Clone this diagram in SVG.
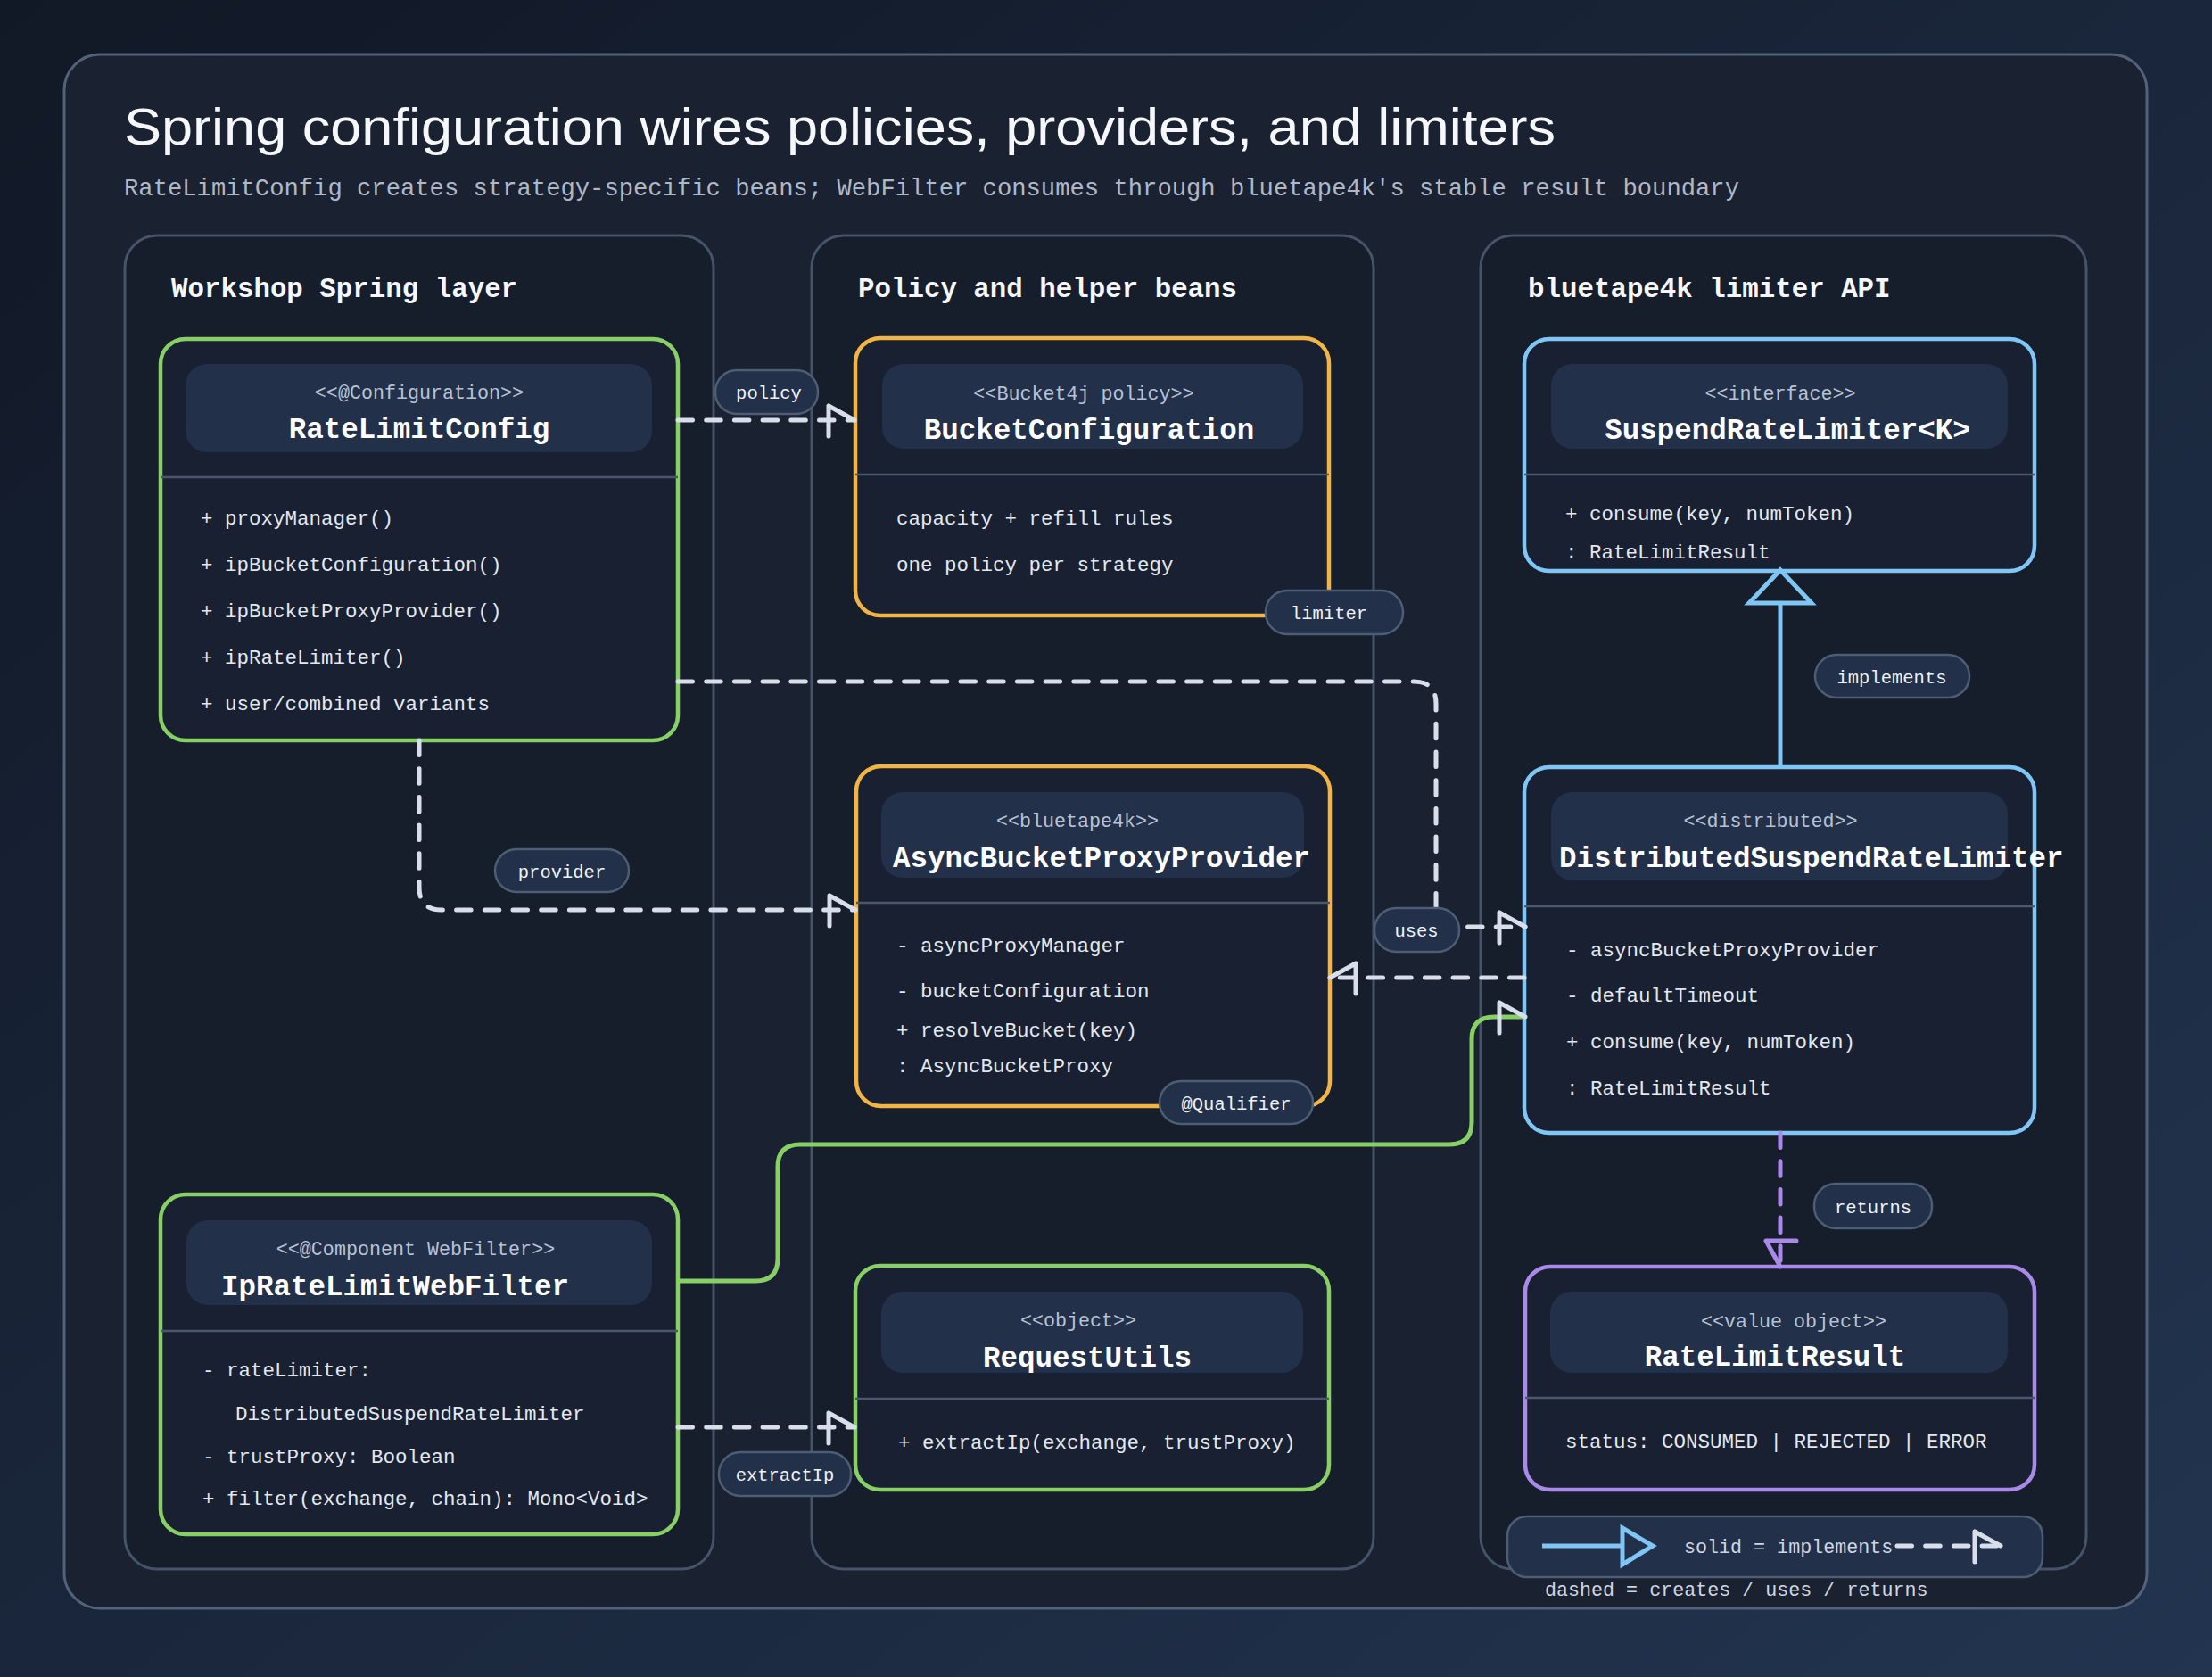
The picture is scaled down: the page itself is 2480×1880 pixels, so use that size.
<svg xmlns="http://www.w3.org/2000/svg" width="2480" height="1880" viewBox="0 0 2480 1880">
<defs>
<linearGradient id="bg" x1="0" y1="0" x2="1" y2="1">
<stop offset="0" stop-color="#111826"/>
<stop offset="1" stop-color="#22344f"/>
</linearGradient>
<marker id="arrA" markerUnits="userSpaceOnUse" overflow="visible" orient="auto" refX="0" refY="0" markerWidth="60" markerHeight="60">
<path d="M-29,-16 L0,0 M-29,-16 L-29,18" fill="none" stroke="#d8dfeb" stroke-width="5" stroke-linecap="round" stroke-linejoin="round"/>
</marker>
<marker id="arrB" markerUnits="userSpaceOnUse" overflow="visible" orient="auto" refX="0" refY="0" markerWidth="60" markerHeight="60">
<path d="M-29,16 L0,0 M-29,16 L-29,-18" fill="none" stroke="#d8dfeb" stroke-width="5" stroke-linecap="round" stroke-linejoin="round"/>
</marker>
<marker id="arrBp" markerUnits="userSpaceOnUse" overflow="visible" orient="auto" refX="0" refY="0" markerWidth="60" markerHeight="60">
<path d="M-29,16 L0,0 M-29,16 L-29,-18" fill="none" stroke="#a98ae8" stroke-width="5" stroke-linecap="round" stroke-linejoin="round"/>
</marker>
<style>
.frame{fill:#1a2130;stroke:#52627a;stroke-width:3}
.lane{fill:#161d2b;stroke:#46546a;stroke-width:3}
.lt{font-family:"Liberation Mono","DejaVu Sans Mono",monospace;font-size:30.8px;font-weight:bold;fill:#f5f7fb}
.node{fill:#182031;stroke-width:4.5}
.g{stroke:#88d066}.o{stroke:#f2b544}.b{stroke:#7fc6f5}.p{stroke:#a98ae8}
.hdr{fill:#22304a}
.div{stroke:#4b576b;stroke-width:2.5}
.st{font-family:"Liberation Mono","DejaVu Sans Mono",monospace;font-size:21.7px;fill:#b7c2d4;text-anchor:middle}
.nm{font-family:"Liberation Mono","DejaVu Sans Mono",monospace;font-size:32.5px;font-weight:bold;fill:#ffffff;text-anchor:middle}
.mb{font-family:"Liberation Mono","DejaVu Sans Mono",monospace;font-size:22.5px;fill:#e3e8f0}
.dash{fill:none;stroke:#d8dfeb;stroke-width:5;stroke-dasharray:16.5 15.2;stroke-linecap:round;stroke-linejoin:round}
.dashp{fill:none;stroke:#a98ae8;stroke-width:5;stroke-dasharray:16.5 15.2;stroke-linecap:round}
.solidg{fill:none;stroke:#88d066;stroke-width:5;stroke-linejoin:round}
.solidb{fill:none;stroke:#7fc6f5;stroke-width:5}
.pill{fill:#22304a;stroke:#4d5d74;stroke-width:2.5}
.pt{font-family:"Liberation Mono","DejaVu Sans Mono",monospace;font-size:20.5px;fill:#eef2f7;text-anchor:middle}
.lg{font-family:"Liberation Mono","DejaVu Sans Mono",monospace;font-size:21.7px;fill:#cfd6e2}
</style>
</defs>

<rect x="0" y="0" width="2480" height="1880" fill="url(#bg)"/>
<rect class="frame" x="72" y="61" width="2335" height="1742" rx="40"/>

<text x="139" y="162" font-family="'Liberation Sans','Noto Sans',sans-serif" font-size="58" fill="#f5f7fb" textLength="1605" lengthAdjust="spacingAndGlyphs">Spring configuration wires policies, providers, and limiters</text>
<text x="139" y="219" font-family="'Liberation Mono','DejaVu Sans Mono',monospace" font-size="27.2" fill="#aeb8c9">RateLimitConfig creates strategy-specific beans; WebFilter consumes through bluetape4k's stable result boundary</text>

<g id="lane-spring">
<rect class="lane" x="140" y="264" width="660" height="1495" rx="36"/>
<text class="lt" x="192" y="333">Workshop Spring layer</text>
</g>
<g id="lane-policy">
<rect class="lane" x="910" y="264" width="630" height="1495" rx="36"/>
<text class="lt" x="962" y="333">Policy and helper beans</text>
</g>
<g id="lane-api">
<rect class="lane" x="1660" y="264" width="679" height="1495" rx="36"/>
<text class="lt" x="1713" y="333">bluetape4k limiter API</text>
</g>

<g id="RateLimitConfig">
<rect class="node g" x="180" y="380" width="580" height="450" rx="28"/>
<rect class="hdr" x="208" y="408" width="523" height="99" rx="24"/>
<text class="st" x="470" y="447">&lt;&lt;@Configuration&gt;&gt;</text>
<text class="nm" x="470" y="491">RateLimitConfig</text>
<line class="div" x1="180" y1="535" x2="760" y2="535"/>
<text class="mb" x="225" y="588">+ proxyManager()</text>
<text class="mb" x="225" y="640">+ ipBucketConfiguration()</text>
<text class="mb" x="225" y="692">+ ipBucketProxyProvider()</text>
<text class="mb" x="225" y="744">+ ipRateLimiter()</text>
<text class="mb" x="225" y="796">+ user/combined variants</text>
</g>

<g id="IpRateLimitWebFilter">
<rect class="node g" x="180" y="1339" width="580" height="381" rx="28"/>
<rect class="hdr" x="209" y="1368" width="522" height="95" rx="24"/>
<text class="st" x="466" y="1407">&lt;&lt;@Component WebFilter&gt;&gt;</text>
<text class="nm" x="443" y="1452">IpRateLimitWebFilter</text>
<line class="div" x1="180" y1="1492" x2="760" y2="1492"/>
<text class="mb" x="227" y="1543">- rateLimiter:</text>
<text class="mb" x="264" y="1592">DistributedSuspendRateLimiter</text>
<text class="mb" x="227" y="1640">- trustProxy: Boolean</text>
<text class="mb" x="227" y="1687">+ filter(exchange, chain): Mono&lt;Void&gt;</text>
</g>

<g id="BucketConfiguration">
<rect class="node o" x="959" y="379" width="531" height="311" rx="28"/>
<rect class="hdr" x="989" y="408" width="472" height="95" rx="24"/>
<text class="st" x="1215" y="448">&lt;&lt;Bucket4j policy&gt;&gt;</text>
<text class="nm" x="1221" y="492">BucketConfiguration</text>
<line class="div" x1="959" y1="532" x2="1490" y2="532"/>
<text class="mb" x="1005" y="588">capacity + refill rules</text>
<text class="mb" x="1005" y="640">one policy per strategy</text>
</g>

<g id="AsyncBucketProxyProvider">
<rect class="node o" x="960" y="859" width="531" height="381" rx="28"/>
<rect class="hdr" x="988" y="888" width="474" height="96" rx="24"/>
<text class="st" x="1208" y="927">&lt;&lt;bluetape4k&gt;&gt;</text>
<text class="nm" x="1235" y="972">AsyncBucketProxyProvider</text>
<line class="div" x1="960" y1="1012" x2="1491" y2="1012"/>
<text class="mb" x="1005" y="1067">- asyncProxyManager</text>
<text class="mb" x="1005" y="1118">- bucketConfiguration</text>
<text class="mb" x="1005" y="1162">+ resolveBucket(key)</text>
<text class="mb" x="1005" y="1202">: AsyncBucketProxy</text>
</g>

<g id="RequestUtils">
<rect class="node g" x="959" y="1419" width="531" height="251" rx="28"/>
<rect class="hdr" x="988" y="1448" width="473" height="91" rx="24"/>
<text class="st" x="1209" y="1487">&lt;&lt;object&gt;&gt;</text>
<text class="nm" x="1219" y="1532">RequestUtils</text>
<line class="div" x1="959" y1="1568" x2="1490" y2="1568"/>
<text class="mb" x="1007" y="1624">+ extractIp(exchange, trustProxy)</text>
</g>

<g id="SuspendRateLimiter">
<rect class="node b" x="1709" y="380" width="572" height="260" rx="28"/>
<rect class="hdr" x="1739" y="408" width="512" height="95" rx="24"/>
<text class="st" x="1996" y="448">&lt;&lt;interface&gt;&gt;</text>
<text class="nm" x="2004" y="492">SuspendRateLimiter&lt;K&gt;</text>
<line class="div" x1="1709" y1="532" x2="2281" y2="532"/>
<text class="mb" x="1755" y="583">+ consume(key, numToken)</text>
<text class="mb" x="1755" y="626">: RateLimitResult</text>
</g>

<g id="DistributedSuspendRateLimiter">
<rect class="node b" x="1709" y="860" width="572" height="410" rx="28"/>
<rect class="hdr" x="1739" y="888" width="512" height="99" rx="24"/>
<text class="st" x="1985" y="927">&lt;&lt;distributed&gt;&gt;</text>
<text class="nm" x="1748" y="972" style="text-anchor:start">DistributedSuspendRateLimiter</text>
<line class="div" x1="1709" y1="1016" x2="2281" y2="1016"/>
<text class="mb" x="1756" y="1072">- asyncBucketProxyProvider</text>
<text class="mb" x="1756" y="1123">- defaultTimeout</text>
<text class="mb" x="1756" y="1175">+ consume(key, numToken)</text>
<text class="mb" x="1756" y="1227">: RateLimitResult</text>
</g>

<g id="RateLimitResult">
<rect class="node p" x="1710" y="1420" width="571" height="250" rx="28"/>
<rect class="hdr" x="1738" y="1448" width="513" height="91" rx="24"/>
<text class="st" x="2011" y="1488">&lt;&lt;value object&gt;&gt;</text>
<text class="nm" x="1990" y="1531">RateLimitResult</text>
<line class="div" x1="1710" y1="1567" x2="2281" y2="1567"/>
<text class="mb" x="1755" y="1623">status: CONSUMED | REJECTED | ERROR</text>
</g>

<g id="connectors">
<path class="dash" d="M760,471 H958" marker-end="url(#arrA)"/>
<path class="dash" d="M470,830 V995 Q470,1020 495,1020 H959" marker-end="url(#arrA)"/>
<path class="dash" d="M760,764 H1585 Q1610,764 1610,789 V1014 Q1610,1039 1635,1039 H1710" marker-end="url(#arrA)"/>
<path class="dash" d="M1709,1096 H1491" marker-end="url(#arrB)"/>
<path class="solidg" d="M760,1436 H847 Q872,1436 872,1411 V1308 Q872,1283 897,1283 H1625 Q1650,1283 1650,1258 V1165 Q1650,1140 1675,1140 H1710" marker-end="url(#arrA)"/>
<path class="dash" d="M760,1600 H958" marker-end="url(#arrA)"/>
<path class="solidb" d="M1996,860 V676"/>
<path d="M1996,639 L2031,676 L1961,676 Z" fill="#161d2b" stroke="#7fc6f5" stroke-width="5" stroke-linejoin="miter"/>
<path class="dashp" d="M1996,1270 V1420" marker-end="url(#arrBp)"/>
</g>

<g id="labels">
<rect class="pill" x="802" y="415" width="115" height="49" rx="24"/>
<text class="pt" x="862" y="447">policy</text>
<rect class="pill" x="1419" y="662" width="154" height="49" rx="24"/>
<text class="pt" x="1490" y="694">limiter</text>
<rect class="pill" x="555" y="952" width="150" height="48" rx="24"/>
<text class="pt" x="630" y="984">provider</text>
<rect class="pill" x="1541" y="1018" width="95" height="49" rx="24"/>
<text class="pt" x="1588" y="1050">uses</text>
<rect class="pill" x="2035" y="734" width="173" height="48" rx="24"/>
<text class="pt" x="2121" y="766">implements</text>
<rect class="pill" x="1300" y="1212" width="172" height="48" rx="24"/>
<text class="pt" x="1386" y="1244">@Qualifier</text>
<rect class="pill" x="2034" y="1327" width="132" height="50" rx="24"/>
<text class="pt" x="2100" y="1360">returns</text>
<rect class="pill" x="806" y="1628" width="148" height="49" rx="24"/>
<text class="pt" x="880" y="1660">extractIp</text>
</g>

<g id="legend">
<rect class="pill" x="1690" y="1700" width="600" height="68" rx="22"/>
<path class="solidb" d="M1729,1733 H1819"/>
<path d="M1819,1713 L1853,1733 L1819,1754 Z" fill="#22304a" stroke="#7fc6f5" stroke-width="5"/>
<text class="lg" x="1888" y="1741">solid = implements</text>
<path class="dash" d="M2127,1733 H2243" marker-end="url(#arrA)"/>
<text class="lg" x="1732" y="1789">dashed = creates / uses / returns</text>
</g>
</svg>
